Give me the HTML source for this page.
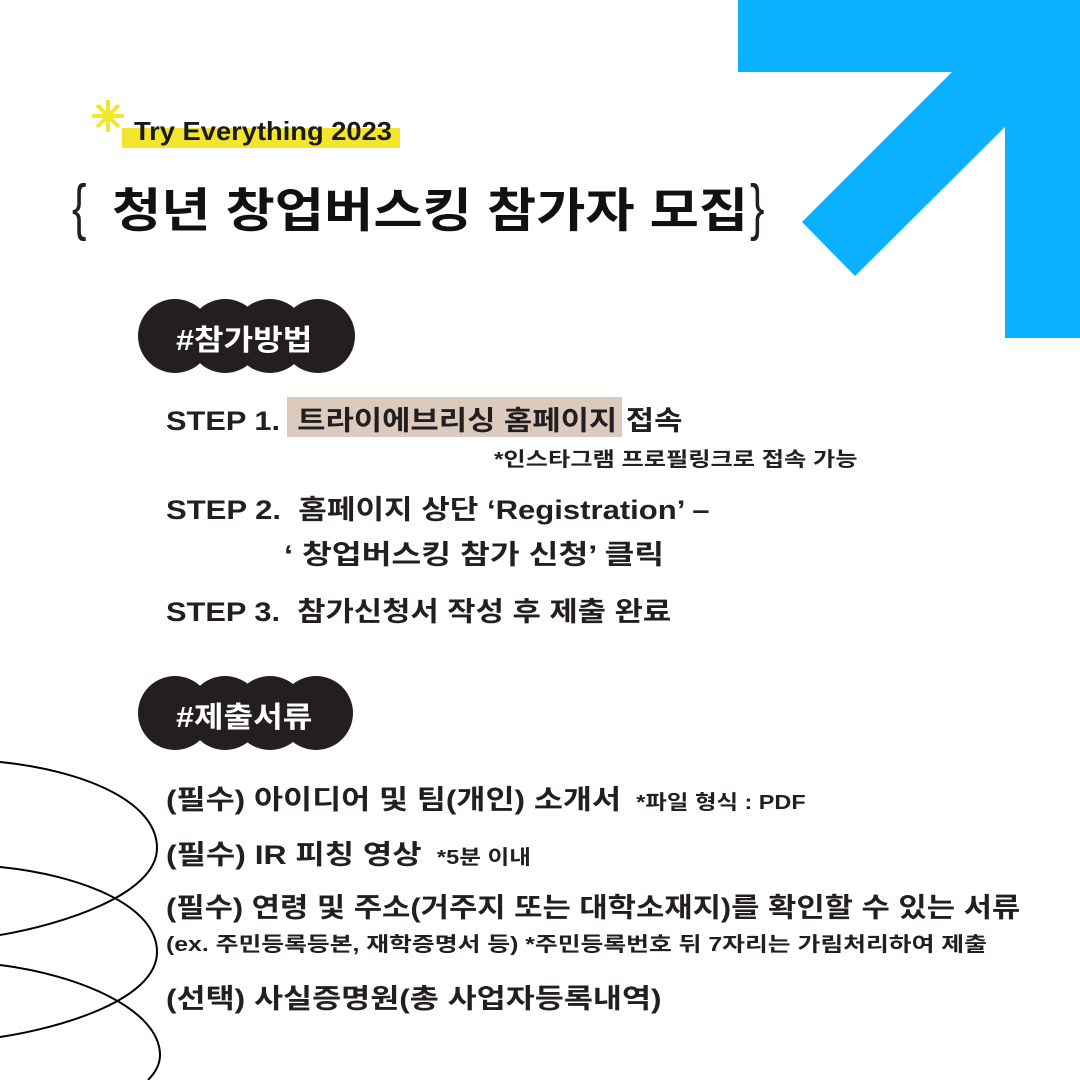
<!DOCTYPE html>
<html><head><meta charset="utf-8"><style>
body{margin:0;width:1080px;height:1080px;background:#fff;position:relative;overflow:hidden;font-family:"Liberation Sans","Noto Sans CJK KR",sans-serif;color:#231f20}
.t{position:absolute;white-space:nowrap;font-weight:bold;transform-origin:left center}
</style></head><body>
<svg width="1080" height="1080" style="position:absolute;left:0;top:0">
<polygon points="738,0 1080,0 1080,338 1005,338 1005,127 855,276 802,222 952,72 738,72" fill="#0bb0ff"/>
<rect x="122" y="128" width="278" height="20" fill="#f3e52c"/>
<g stroke="#f3e52c" stroke-width="4"><line x1="108" y1="100" x2="108" y2="132"/><line x1="92" y1="116" x2="124" y2="116"/><line x1="97" y1="105" x2="119" y2="127"/><line x1="119" y1="105" x2="97" y2="127"/></g>
<rect x="287" y="397" width="335" height="40" fill="#dccbbd"/>
<g fill="#231f20">
<circle cx="175" cy="336" r="37"/><circle cx="225" cy="336" r="37"/><circle cx="270" cy="336" r="37"/><circle cx="318" cy="336" r="37"/>
<circle cx="175" cy="713" r="37"/><circle cx="225" cy="713" r="37"/><circle cx="270" cy="713" r="37"/><circle cx="316" cy="713" r="37"/>
</g>
<g fill="none" stroke="#000" stroke-width="2">
<path d="M0,762 C80,770 157,800 157,848 C157,895 60,925 0,935"/>
<path d="M0,867 C80,875 157,905 157,952 C157,1000 60,1028 0,1037"/>
<path d="M0,965 C80,975 160,1010 160,1055 C160,1065 155,1073 148,1080"/>
</g>
</svg>
<div class="t" style="left:134px;top:116px;font-size:26px;color:#1a1a1a;transform:scaleX(1.05)">Try Everything 2023</div>
<div class="t" style="left:72px;top:172px;font-size:62px;font-weight:normal;transform:scaleX(0.7)">{</div>
<div class="t" style="left:112px;top:172px;font-size:47px;color:#111;transform:scaleX(1.14)">청년 창업버스킹 참가자 모집</div>
<div class="t" style="left:750px;top:172px;font-size:62px;font-weight:normal;transform:scaleX(0.7)">}</div>
<div class="t" style="left:176px;top:317px;font-size:29px;color:#fff;transform:scaleX(1.11)">#참가방법</div>
<div class="t" style="left:176px;top:694px;font-size:29px;color:#fff;transform:scaleX(1.11)">#제출서류</div>
<div class="t" style="left:166px;top:399px;font-size:27px;transform:scaleX(1.14)">STEP 1.&nbsp; 트라이에브리싱 홈페이지 접속</div>
<div class="t" style="left:494px;top:443px;font-size:20px;transform:scaleX(1.21)">*인스타그램 프로필링크로 접속 가능</div>
<div class="t" style="left:166px;top:488px;font-size:27px;transform:scaleX(1.15)">STEP 2.&nbsp; 홈페이지 상단 ‘Registration’ –</div>
<div class="t" style="left:284px;top:533px;font-size:27px;transform:scaleX(1.2)">‘ 창업버스킹 참가 신청’ 클릭</div>
<div class="t" style="left:166px;top:590px;font-size:27px;transform:scaleX(1.14)">STEP 3.&nbsp; 참가신청서 작성 후 제출 완료</div>
<div class="t" style="left:166px;top:778px;font-size:27px;transform:scaleX(1.17)">(필수) 아이디어 및 팀(개인) 소개서 <span style="font-size:20px">&nbsp;*파일 형식 : PDF</span></div>
<div class="t" style="left:166px;top:833px;font-size:27px;transform:scaleX(1.18)">(필수) IR 피칭 영상 <span style="font-size:20px">&nbsp;*5분 이내</span></div>
<div class="t" style="left:166px;top:886px;font-size:27px;transform:scaleX(1.14)">(필수) 연령 및 주소(거주지 또는 대학소재지)를 확인할 수 있는 서류</div>
<div class="t" style="left:166px;top:928px;font-size:20px;transform:scaleX(1.24)">(ex. 주민등록등본, 재학증명서 등) *주민등록번호 뒤 7자리는 가림처리하여 제출</div>
<div class="t" style="left:166px;top:977px;font-size:27px;transform:scaleX(1.17)">(선택) 사실증명원(총 사업자등록내역)</div>
</body></html>
